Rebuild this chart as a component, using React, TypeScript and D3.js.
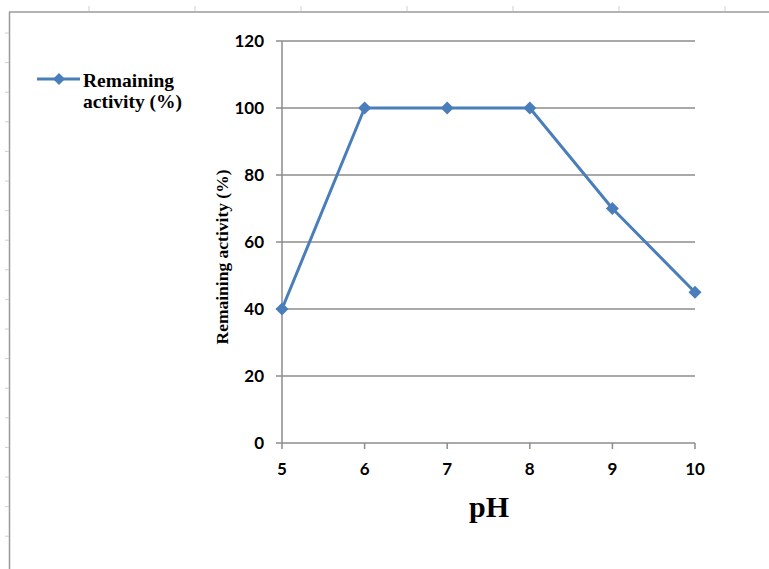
import React from "react";
import * as d3 from "d3";

const phValues = [5, 6, 7, 8, 9, 10];
const activity = [40, 100, 100, 100, 70, 45];
const yTicks = [0, 20, 40, 60, 80, 100, 120];
const seriesName = ["Remaining", "activity (%)"];
const yTitle = "Remaining activity (%)";
const xTitle = "pH";

const W = 769;
const H = 569;
const M = { left: 282, right: 695, top: 41, bottom: 443 };
const BLUE = "#4A7EBB";
const GRID = "#8C8C8C";

function diamond(cx: number, cy: number, r: number) {
  return `M${cx},${cy - r}L${cx + r},${cy}L${cx},${cy + r}L${cx - r},${cy}Z`;
}

export default function App() {
  const x = d3.scaleLinear().domain([5, 10]).range([M.left, M.right]);
  const y = d3.scaleLinear().domain([0, 120]).range([M.bottom, M.top]);
  const line = d3
    .line<number>()
    .x((_, i) => x(phValues[i]))
    .y((d) => y(d));

  const topRuler = d3.range(7).map((i) => 89 + i * 106);
  const leftRuler = d3.range(18).map((i) => 33 + i * 29.6);

  return (
    <svg
      width={W}
      height={H}
      style={{ position: "absolute", left: 0, top: 0, background: "#fff" }}
    >
      {/* page frame */}
      <line x1={9} y1={12} x2={W} y2={12} stroke="#9a9a9a" strokeWidth={1.5} />
      <line x1={9.5} y1={12} x2={9.5} y2={H} stroke="#9a9a9a" strokeWidth={1.5} />
      {topRuler.map((t) => (
        <line key={"tr" + t} x1={t} x2={t} y1={6} y2={11} stroke="#d0d0d0" />
      ))}
      {leftRuler.map((t) => (
        <line key={"lr" + t} x1={5} x2={9} y1={t} y2={t} stroke="#d0d0d0" />
      ))}

      {/* grid lines */}
      {yTicks
        .filter((t) => t > 0)
        .map((t) => (
          <line
            key={"g" + t}
            x1={M.left - 6}
            x2={M.right}
            y1={y(t)}
            y2={y(t)}
            stroke={GRID}
            strokeWidth={1.5}
          />
        ))}
      {/* axes */}
      <line x1={M.left} x2={M.left} y1={M.top} y2={M.bottom} stroke={GRID} strokeWidth={1.5} />
      <line x1={M.left - 6} x2={M.right} y1={M.bottom} y2={M.bottom} stroke={GRID} strokeWidth={1.5} />
      {phValues.map((p) => (
        <line
          key={"xt" + p}
          x1={x(p)}
          x2={x(p)}
          y1={M.bottom}
          y2={M.bottom + 6}
          stroke={GRID}
          strokeWidth={1.5}
        />
      ))}

      {/* tick labels */}
      {yTicks.map((t) => (
        <text
          key={"yl" + t}
          x={M.left - 18}
          y={y(t)}
          dy="0.36em"
          textAnchor="end"
          fontFamily="Lato, 'Open Sans', sans-serif"
          fontWeight="bold"
          fontSize={17}
          fill="#000"
        >
          {t}
        </text>
      ))}
      {phValues.map((p) => (
        <text
          key={"xl" + p}
          x={x(p)}
          y={475}
          textAnchor="middle"
          fontFamily="Lato, 'Open Sans', sans-serif"
          fontWeight="bold"
          fontSize={17}
          fill="#000"
        >
          {p}
        </text>
      ))}

      {/* axis titles */}
      <text
        transform={`translate(228, 257) rotate(-90)`}
        textAnchor="middle"
        fontFamily="'Liberation Serif', 'Times New Roman', serif"
        fontWeight="bold"
        fontSize={17.5}
        fill="#000"
      >
        {yTitle}
      </text>
      <text
        x={489}
        y={517}
        textAnchor="middle"
        fontFamily="'Liberation Serif', 'Times New Roman', serif"
        fontWeight="bold"
        fontSize={30}
        fill="#000"
      >
        {xTitle}
      </text>

      {/* series */}
      <path d={line(activity) || ""} fill="none" stroke={BLUE} strokeWidth={3} strokeLinejoin="round" />
      {activity.map((v, i) => (
        <path key={"m" + i} d={diamond(x(phValues[i]), y(v), 6.5)} fill={BLUE} />
      ))}

      {/* legend */}
      <line x1={37} x2={80} y1={79} y2={79} stroke={BLUE} strokeWidth={3} />
      <path d={diamond(59, 79, 6)} fill={BLUE} />
      <text
        x={83}
        y={87}
        fontFamily="'Liberation Serif', 'Times New Roman', serif"
        fontWeight="bold"
        fontSize={19.5}
        fill="#000"
      >
        {seriesName[0]}
      </text>
      <text
        x={83}
        y={108}
        fontFamily="'Liberation Serif', 'Times New Roman', serif"
        fontWeight="bold"
        fontSize={19.5}
        fill="#000"
      >
        {seriesName[1]}
      </text>
    </svg>
  );
}
